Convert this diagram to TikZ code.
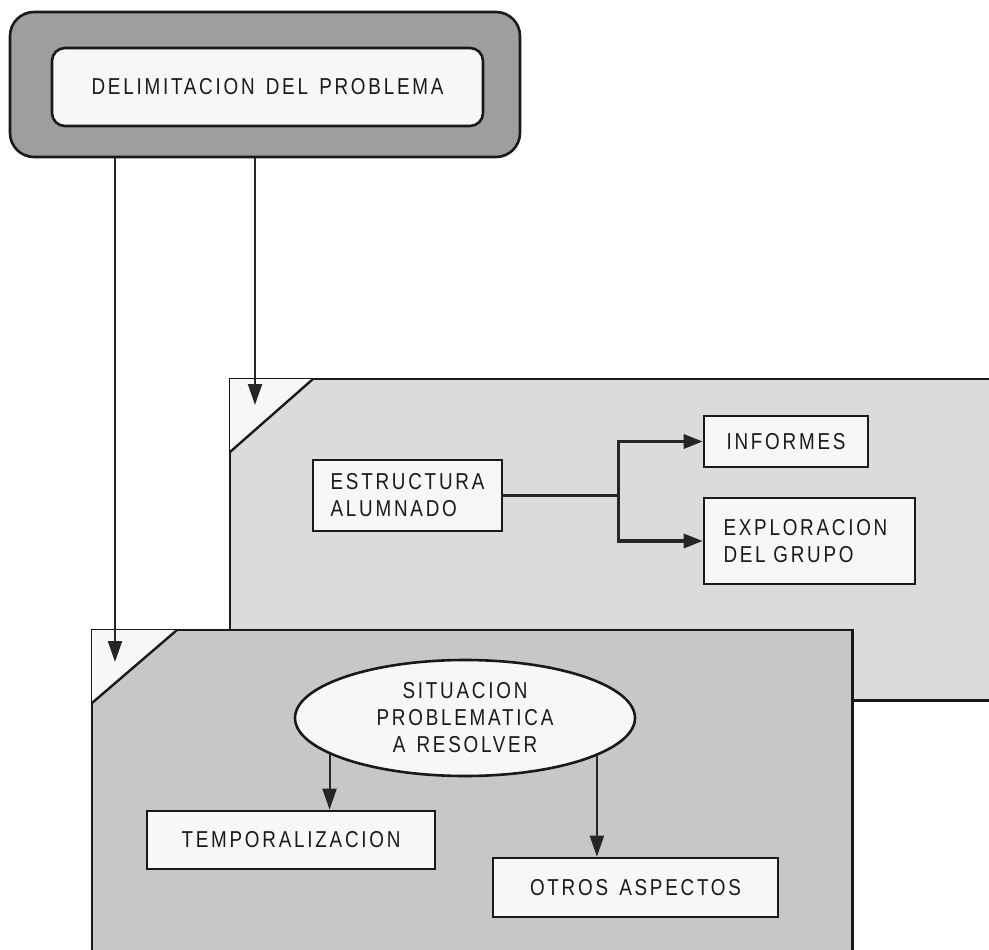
\documentclass[tikz,border=0pt]{standalone}
\usepackage{fontspec}
\setmainfont{Liberation Sans}[LetterSpace=12,FakeStretch=0.82,WordSpace=1.4]
\usetikzlibrary{arrows.meta,shapes.geometric}
\begin{document}
\begin{tikzpicture}[x=1pt,y=-1pt,
  lbl/.style={font=\fontsize{23}{27}\selectfont, text=black!90},
  box/.style={draw=black!90, line width=2.6pt, fill=black!3, inner sep=0pt, lbl},
  edge/.style={draw=black!90, line width=2.4pt},
  paneltri/.style={fill=black!3},
  thinarr/.style={draw=black!85, line width=2pt, -{Triangle[length=21pt,width=14pt]}},
  thickarr/.style={draw=black!85, line width=3.2pt, -{Triangle[length=19pt,width=14pt]}}
]
\useasboundingbox (0,0) rectangle (989,950);

% upper panel
\node[fill=black!14, inner sep=0pt, minimum width=759pt, minimum height=321pt, anchor=north west] (panelA) at (230,379) {};
\draw[edge] (panelA.north east) -- (panelA.north west) -- (panelA.south west) -- (panelA.south east);
\fill[paneltri] (panelA.north west) -- ++(83,0) -- ++(-83,73) -- cycle;
\draw[edge] (panelA.north west) ++(83,0) -- ++(-83,73);

% lower panel
\node[fill=black!22, inner sep=0pt, minimum width=760pt, minimum height=320pt, anchor=north west] (panelB) at (92,630) {};
\draw[edge] (panelB.south west) -- (panelB.north west) -- (panelB.north east) -- (panelB.south east);
\fill[paneltri] (panelB.north west) -- ++(85,0) -- ++(-85,73) -- cycle;
\draw[edge] (panelB.north west) ++(85,0) -- ++(-85,73);

% title
\node[draw=black!90, line width=2.6pt, fill=black!38, rounded corners=24pt, minimum width=510pt, minimum height=145pt, inner sep=0pt] (delimOuter) at (265,84.5) {};
\node[box, rounded corners=13pt, minimum width=431pt, minimum height=78pt] (delim) at (267.5,87) {DELIMITACION DEL PROBLEMA};

% boxes in upper panel
\node[box, align=left, minimum width=189pt, minimum height=71pt] (estructura) at (407.5,495.5) {ESTRUCTURA\\ALUMNADO};
\node[box, minimum width=164pt, minimum height=51pt] (informes) at (786,441.5) {INFORMES};
\node[box, align=left, minimum width=211pt, minimum height=86pt, text width=172pt] (exploracion) at (809.5,541) {EXPLORACION\\DEL GRUPO};

% lower panel content
\node[box, ellipse, align=center, minimum width=340pt, minimum height=116pt] (sit) at (465,718) {SITUACION\\PROBLEMATICA\\A RESOLVER};
\node[box, minimum width=288pt, minimum height=58pt] (temporal) at (291,840) {TEMPORALIZACION};
\node[box, minimum width=285pt, minimum height=59pt] (otros) at (635.5,887.5) {OTROS ASPECTOS};

% connectors
\coordinate (tipA) at (255,405);
\coordinate (tipB) at (115,662);
\draw[thinarr] (delimOuter.south -| tipA) -- (tipA);
\draw[thinarr] (delimOuter.south -| tipB) -- (tipB);

\draw[draw=black!85, line width=3.2pt] (estructura.east) -- ++(115,0) coordinate (j);
\draw[thickarr] (j) |- (informes.west);
\draw[thickarr] (j) |- (exploracion.west);

\draw[thinarr] (sit.195.66) -- (sit.195.66 |- temporal.north);
\draw[thinarr] (sit.-16.5) -- (sit.-16.5 |- otros.north);
\end{tikzpicture}
\end{document}
